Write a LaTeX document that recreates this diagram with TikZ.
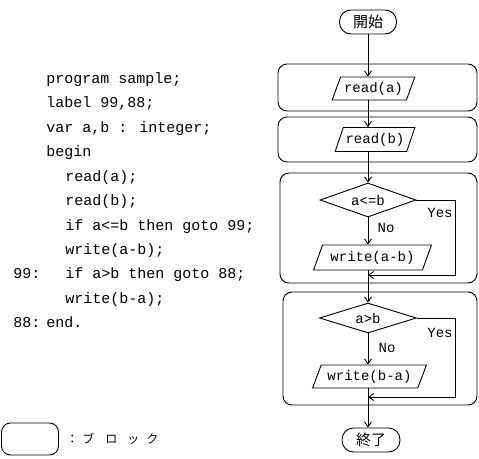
\documentclass[tikz,border=0pt]{standalone}
\usepackage{fontspec}
\newfontfamily\mono{Liberation Mono}
\newfontfamily\jp{Noto Sans CJK JP}
\usetikzlibrary{shapes.geometric,arrows.meta}
\begin{document}
\begin{tikzpicture}[x=1pt,y=-1pt,
  line width=0.9pt,
  code/.style={anchor=base west,inner sep=0,font=\mono\fontsize{15}{15}\selectfont},
  lbl/.style={inner sep=0,font=\mono\fontsize{14}{14}\selectfont},
  term/.style={draw,rounded corners=11.5pt,minimum width=57,minimum height=24,inner sep=0,font=\jp\fontsize{15}{15}\selectfont},
  io/.style={draw,trapezium,trapezium left angle=60,trapezium right angle=120,trapezium stretches=true,inner sep=0,font=\mono\fontsize{14}{14}\selectfont},
  dec/.style={draw,diamond,inner sep=0,aspect=3,font=\mono\fontsize{14}{14}\selectfont},
  blk/.style={draw,rounded corners=9pt},
  arr/.style={-{Straight Barb[length=5pt,width=7pt]}}
]
\useasboundingbox (0,0) rectangle (479,458);

% program text
\node[code] (c1) at (46,83) {program sample;};
\node[code] (c2) at (46,107.5) {label 99,88;};
\node[code] (c3) at (46,132) {var a,b : integer;};
\node[code] (c4) at (46,156.5) {begin};
\node[code] (c5) at (65,181) {read(a);};
\node[code] (c6) at (65,205.5) {read(b);};
\node[code] (c7) at (65,230) {if a<=b then goto 99;};
\node[code] (c8) at (65,254.5) {write(a-b);};
\node[code] (c9l) at (13,278.5) {99:};
\node[code] (c9) at (65,278.5) {if a>b then goto 88;};
\node[code] (c10) at (65,303) {write(b-a);};
\node[code] (c11l) at (13,327) {88:};
\node[code] (c11) at (46,327) {end.};

% blocks
\draw[blk] (278,64) rectangle (477,111);
\draw[blk] (278,117) rectangle (477,162);
\draw[blk] (280,173) rectangle (477,283);
\draw[blk] (283,292) rectangle (477,405);

% flowchart nodes
\node[term] (start) at (368,22) {開始};
\node[io,minimum width=83,minimum height=23] (ra) at (373.5,88.5) {read(a)};
\node[io,minimum width=80,minimum height=24] (rb) at (375,139.5) {read(b)};
\node[dec,minimum width=96,minimum height=34] (d1) at (368,200) {a<=b};
\node[io,minimum width=119,minimum height=25] (w1) at (372.5,257.5) {write(a-b)};
\node[dec,minimum width=97,minimum height=30] (d2) at (368,318) {a>b};
\node[io,minimum width=115,minimum height=23] (w2) at (369.5,376.5) {write(b-a)};
\node[term,minimum width=58] (end) at (371,440) {終了};

\coordinate (r1) at (455,275);
\coordinate (j1) at (368,275);
\coordinate (r2) at (455,397);
\coordinate (j2) at (368,397);

% connectors
\draw[arr] (start.south) -- (start.south |- ra.north);
\draw[arr] (start.south |- ra.south) -- (start.south |- rb.north);
\draw[arr] (start.south |- rb.south) -- (d1.north);
\draw[arr] (d1.south) -- (d1.south |- w1.north);
\draw[arr] (d1.south |- w1.south) -- (d2.north);
\draw[arr] (d1.east) -| (r1) -- (j1);
\draw[arr] (d2.south) -- (d2.south |- w2.north);
\draw[arr] (d2.south |- w2.south) -- (d2.south |- end.north);
\draw[arr] (d2.east) -| (r2) -- (j2);

% labels
\node[lbl] (y1) at (440,213) {Yes};
\node[lbl] (n1) at (386,228) {No};
\node[lbl] (y2) at (440,333) {Yes};
\node[lbl] (n2) at (387,348) {No};

% legend
\node[draw,rounded corners=9pt,minimum width=57,minimum height=32,inner sep=0] (leg) at (30,439) {};
\node[anchor=west,inner sep=0,font=\jp\fontsize{12}{12}\selectfont] (legtext) at (66,439) {：\hspace{4pt}ブ\hspace{11pt}ロ\hspace{10pt}ッ\hspace{7pt}ク};
\end{tikzpicture}
\end{document}
